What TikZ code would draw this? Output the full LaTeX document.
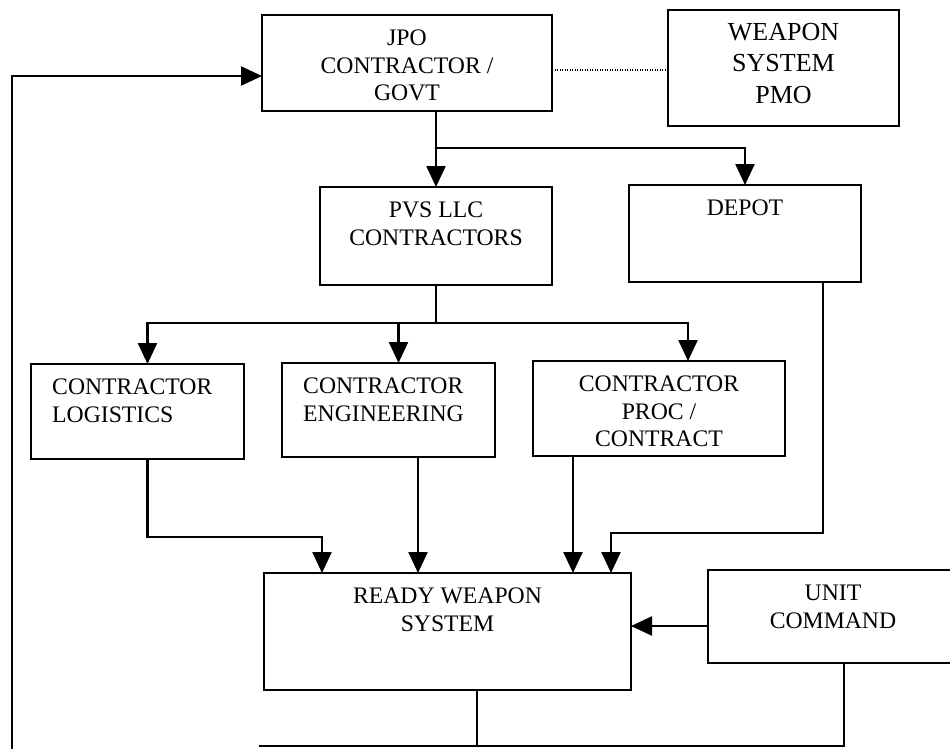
\documentclass[tikz,border=0pt]{standalone}
\usepackage{fontspec}
\setmainfont{Liberation Serif}
\usetikzlibrary{arrows.meta}

\tikzset{
  box/.style={draw, line width=2.4pt, anchor=north west, inner sep=0pt, outer sep=0pt},
  lbl/.style={anchor=north, yshift=-15pt, inner sep=0pt, align=center,
    font=\fontsize{23.7}{27.5}\selectfont},
  lblleft/.style={lbl, anchor=north west, xshift=21pt, align=left},
  wire/.style={line width=2.4pt},
  arr/.style={wire, -{Triangle[length=21pt,width=19pt]}},
  dotline/.style={line width=1.3pt, dash pattern=on 1.1pt off 1.4pt}
}

\begin{document}
\begin{tikzpicture}[x=1pt,y=-1pt]
  \clip (0,0) rectangle (950,748);
  \fill[white] (0,0) rectangle (950,748);

  % boxes
  \node[box, minimum width=290pt, minimum height=96pt,
    label={[lbl]north:JPO\\CONTRACTOR /\\GOVT}] (jpo) at (262,15) {};
  \node[box, minimum width=231pt, minimum height=116pt,
    label={[lbl, yshift=2pt, font=\fontsize{26}{31.5}\selectfont]north:WEAPON\\SYSTEM\\PMO}] (pmo) at (668,10) {};
  \node[box, minimum width=232pt, minimum height=98pt,
    label={[lbl]north:PVS LLC\\CONTRACTORS}] (pvs) at (320,187) {};
  \node[box, minimum width=232pt, minimum height=97pt,
    label={[lbl]north:DEPOT}] (depot) at (629,185) {};
  \node[box, minimum width=213pt, minimum height=95pt,
    label={[lblleft]north west:CONTRACTOR\\LOGISTICS}] (logi) at (31,364) {};
  \node[box, minimum width=213pt, minimum height=94pt,
    label={[lblleft]north west:CONTRACTOR\\ENGINEERING}] (eng) at (282,363) {};
  \node[box, minimum width=252pt, minimum height=95pt,
    label={[lbl]north:CONTRACTOR\\PROC /\\CONTRACT}] (proc) at (533,361) {};
  \node[box, minimum width=367pt, minimum height=117pt,
    label={[lbl]north:READY WEAPON\\SYSTEM}] (rws) at (264,573) {};
  \node[box, minimum width=250pt, minimum height=93pt,
    label={[lbl]north:UNIT\\COMMAND}] (unit) at (708,570) {};

  % bus levels and loose ends
  \coordinate (busA) at (0,148);
  \coordinate (busB) at (0,323);
  \coordinate (busL) at (0,537);
  \coordinate (busD) at (0,533);
  \coordinate (low) at (259,746);
  \coordinate (fb) at (12,760);

  % JPO to PMO link
  \draw[dotline] ([yshift=-7pt]jpo.east) coordinate (d1) -- (pmo.west |- d1);

  % JPO to PVS and DEPOT
  \draw[arr] (pvs.north |- jpo.south) -- (pvs.north);
  \draw[arr] (pvs.north |- busA) -| (depot.north);

  % PVS to the three contractor boxes
  \draw[wire] (pvs.south) -- (pvs.south |- busB);
  \draw[arr] (pvs.south |- busB) -| ([xshift=10pt]logi.north);
  \draw[arr] ([xshift=10pt]eng.north |- busB) -- ([xshift=10pt]eng.north);
  \draw[arr] (pvs.south |- busB) -| ([xshift=29pt]proc.north);

  % into the ready weapon system
  \draw[arr] ([xshift=10pt]logi.south) |- ([xshift=-125.5pt]rws.north |- busL) -- ([xshift=-125.5pt]rws.north);
  \draw[arr] ([xshift=29.5pt]eng.south) -- ([xshift=29.5pt]eng.south |- rws.north);
  \draw[arr] ([xshift=-86pt]proc.south) -- ([xshift=-86pt]proc.south |- rws.north);
  \draw[arr] ([xshift=78pt]depot.south) |- ([xshift=163.5pt]rws.north |- busD) -- ([xshift=163.5pt]rws.north);
  \draw[arr] ([yshift=-9.5pt]unit.west) coordinate (u1) -- (rws.east |- u1);

  % feedback lines
  \draw[wire] ([xshift=29.5pt]rws.south) -- ([xshift=29.5pt]rws.south |- low);
  \draw[wire] (low) -- ([xshift=11pt]unit.south |- low) -- ([xshift=11pt]unit.south);
  \draw[arr] (fb) |- ([yshift=-13pt]jpo.west);
\end{tikzpicture}
\end{document}
